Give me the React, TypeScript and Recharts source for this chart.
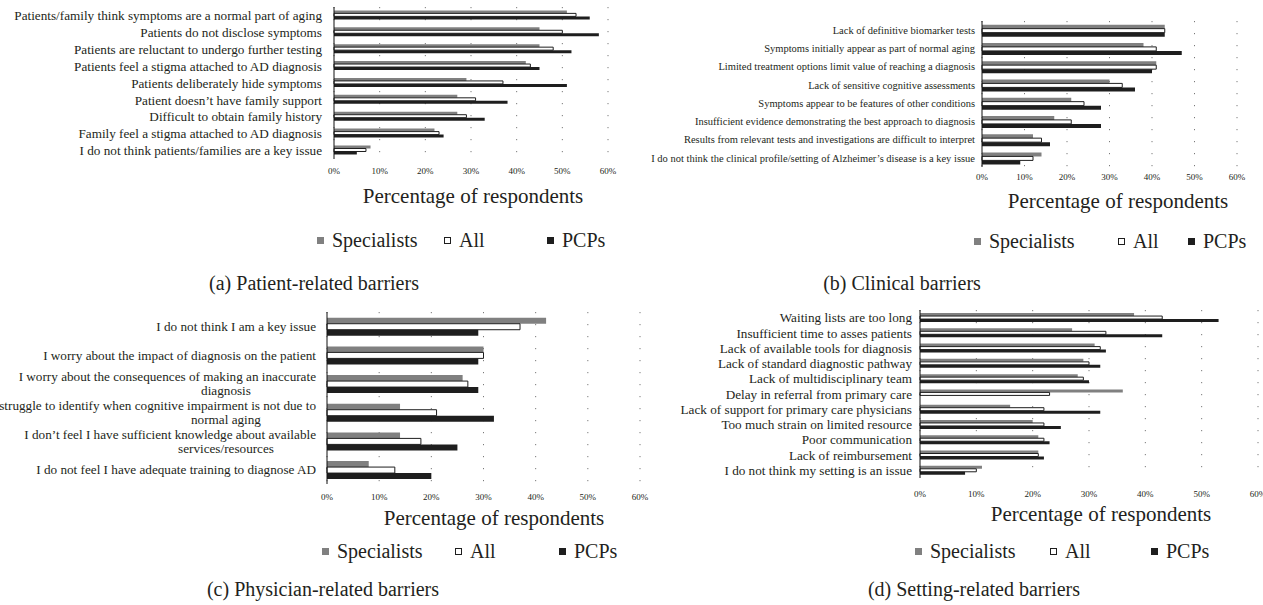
import React from "react";
import { Bar, BarChart, CartesianGrid, XAxis, YAxis } from "recharts";

const patientCategories = [
  "Patients/family think symptoms are a normal part of aging",
  "Patients do not disclose symptoms",
  "Patients are reluctant to undergo further testing",
  "Patients feel a stigma attached to AD diagnosis",
  "Patients deliberately hide symptoms",
  "Patient doesn\u2019t have family support",
  "Difficult to obtain family history",
  "Family feel a stigma attached to AD diagnosis",
  "I do not think patients/families are a key issue",
];
const patientSpecialists = [51, 45, 45, 42, 29, 27, 27, 22, 8];
const patientAll = [53, 50, 48, 43, 37, 31, 29, 23, 7];
const patientPCPs = [56, 58, 52, 45, 51, 38, 33, 24, 5];

const clinicalCategories = [
  "Lack of definitive biomarker tests",
  "Symptoms initially appear as part of normal aging",
  "Limited treatment options limit value of reaching a diagnosis",
  "Lack of sensitive cognitive assessments",
  "Symptoms appear to be features of other conditions",
  "Insufficient evidence demonstrating the best approach to diagnosis",
  "Results from relevant tests and investigations are difficult to interpret",
  "I do not think the clinical profile/setting of Alzheimer\u2019s disease is a key issue",
];
const clinicalSpecialists = [43, 38, 41, 30, 21, 17, 12, 14];
const clinicalAll = [43, 41, 41, 33, 24, 21, 14, 12];
const clinicalPCPs = [43, 47, 40, 36, 28, 28, 16, 9];

const physicianCategories = [
  "I do not think I am a key issue",
  "I worry about the impact of diagnosis on the patient",
  "I worry about the consequences of making an inaccurate\ndiagnosis",
  "I struggle to identify when cognitive impairment is not due to\nnormal aging",
  "I don\u2019t feel I have sufficient knowledge about available\nservices/resources",
  "I do not feel I have adequate training to diagnose AD",
];
const physicianSpecialists = [42, 30, 26, 14, 14, 8];
const physicianAll = [37, 30, 27, 21, 18, 13];
const physicianPCPs = [29, 29, 29, 32, 25, 20];

const settingCategories = [
  "Waiting lists are too long",
  "Insufficient time to asses patients",
  "Lack of available tools for diagnosis",
  "Lack of standard diagnostic pathway",
  "Lack of multidisciplinary team",
  "Delay in referral from primary care",
  "Lack of support for primary care physicians",
  "Too much strain on limited resource",
  "Poor communication",
  "Lack of reimbursement",
  "I do not think my setting is an issue",
];
const settingSpecialists = [38, 27, 31, 29, 28, 36, 16, 20, 21, 21, 11];
const settingAll = [43, 33, 32, 30, 29, 23, 22, 22, 22, 21, 10];
const settingPCPs = [53, 43, 33, 32, 30, 0, 32, 25, 23, 22, 8];

const xTicks = [0, 10, 20, 30, 40, 50, 60];
const seriesNames = ["Specialists", "All", "PCPs"];

const FONT = "'Liberation Serif', 'DejaVu Serif', serif";
const INK = "#231f20";
const GREY = "#808080";
const DARK = "#1e1e1e";

const CategoryTick = (props: any) => {
  const { x, y, payload, fontSize, wrapOffset } = props;
  const lines = String(payload.value).split("\n");
  const lh = fontSize * 1.05;
  const y0 = y - ((lines.length - 1) * lh) / 2;
  return (
    <g>
      {lines.map((line: string, i: number) => (
        <text
          key={i}
          x={i === 0 ? x : x - wrapOffset}
          y={y0 + i * lh}
          dy="0.35em"
          textAnchor={i === 0 ? "end" : "middle"}
          fontSize={fontSize}
          fontFamily={FONT}
          fill={INK}
        >
          {line}
        </text>
      ))}
    </g>
  );
};

const Centered = ({ x, y, size, children }: any) => (
  <div
    style={{
      position: "absolute",
      left: x,
      top: y,
      transform: "translate(-50%, -50%)",
      whiteSpace: "nowrap",
      fontSize: size,
      lineHeight: 1,
      fontFamily: FONT,
      color: INK,
    }}
  >
    {children}
  </div>
);

const markerStyle = [
  { background: GREY, border: "none" },
  { background: "#fff", border: `1px solid ${DARK}` },
  { background: DARK, border: "none" },
];

const PanelLegend = ({ y, markers }: { y: number; markers: number[] }) => (
  <>
    {seriesNames.map((name, i) => (
      <div
        key={name}
        style={{
          position: "absolute",
          left: markers[i] - 4,
          top: y,
          transform: "translateY(-50%)",
          display: "flex",
          alignItems: "center",
          whiteSpace: "nowrap",
          fontFamily: FONT,
          fontSize: 20,
          lineHeight: 1,
          color: INK,
        }}
      >
        <span
          style={{
            flex: "0 0 7px",
            width: 7,
            height: 7,
            boxSizing: "border-box",
            marginRight: 8,
            ...markerStyle[i],
          }}
        />
        <span>{name}</span>
      </div>
    ))}
  </>
);

interface PanelProps {
  categories: string[];
  specialists: number[];
  all: number[];
  pcps: number[];
  left: number;
  top: number;
  width: number;
  height: number;
  margin: { top: number; right: number; bottom: number; left: number };
  axisWidth: number;
  xAxisHeight: number;
  labelGap: number;
  labelSize: number;
  tickGap: number;
  titleAt: [number, number];
  legendY: number;
  legendMarkers: number[];
  caption: string;
  captionAt: [number, number];
}

const Panel = (p: PanelProps) => {
  const data = p.categories.map((name, i) => ({
    name,
    specialists: p.specialists[i],
    all: p.all[i],
    pcps: p.pcps[i],
  }));
  return (
    <>
      <div style={{ position: "absolute", left: p.left, top: p.top }}>
        <BarChart
          width={p.width}
          height={p.height}
          layout="vertical"
          data={data}
          margin={p.margin}
          barCategoryGap="20%"
          barGap={0}
        >
          <CartesianGrid
            horizontal={false}
            stroke="#7a7a7a"
            strokeDasharray="1.2 10.8"
          />
          <XAxis
            type="number"
            domain={[0, 60]}
            ticks={xTicks}
            tickFormatter={(v) => `${v}%`}
            axisLine={false}
            tickLine={false}
            tickSize={0}
            tickMargin={p.tickGap}
            height={p.xAxisHeight}
            interval={0}
            tick={{ fontSize: 9, fill: INK, fontFamily: FONT }}
          />
          <YAxis
            type="category"
            dataKey="name"
            width={p.axisWidth}
            axisLine={{ stroke: "#111", strokeWidth: 1 }}
            tickLine={false}
            tickSize={0}
            tickMargin={p.labelGap}
            interval={0}
            tick={(t: any) => (
              <CategoryTick {...t} fontSize={p.labelSize} wrapOffset={90} />
            )}
          />
          <Bar dataKey="specialists" fill={GREY} isAnimationActive={false} />
          <Bar
            dataKey="all"
            fill="#ffffff"
            stroke={DARK}
            strokeWidth={1}
            isAnimationActive={false}
          />
          <Bar dataKey="pcps" fill={DARK} isAnimationActive={false} />
        </BarChart>
      </div>
      <Centered x={p.titleAt[0]} y={p.titleAt[1]} size={21}>
        Percentage of respondents
      </Centered>
      <PanelLegend y={p.legendY} markers={p.legendMarkers} />
      <Centered x={p.captionAt[0]} y={p.captionAt[1]} size={20}>
        {p.caption}
      </Centered>
    </>
  );
};

export default function App() {
  return (
    <div
      style={{
        position: "absolute",
        left: 0,
        top: 0,
        width: 1263,
        height: 605,
        background: "#fff",
        overflow: "hidden",
      }}
    >
      <Panel
        categories={patientCategories}
        specialists={patientSpecialists}
        all={patientAll}
        pcps={patientPCPs}
        left={0}
        top={0}
        width={640}
        height={185}
        margin={{ top: 7, right: 32, bottom: 0, left: 0 }}
        axisWidth={334}
        xAxisHeight={26}
        labelGap={12}
        labelSize={13.2}
        tickGap={9}
        titleAt={[473, 196]}
        legendY={240}
        legendMarkers={[321, 448, 551]}
        caption="(a)  Patient-related barriers"
        captionAt={[314, 283]}
      />
      <Panel
        categories={clinicalCategories}
        specialists={clinicalSpecialists}
        all={clinicalAll}
        pcps={clinicalPCPs}
        left={640}
        top={0}
        width={623}
        height={190}
        margin={{ top: 21, right: 26, bottom: 0, left: 0 }}
        axisWidth={342}
        xAxisHeight={23}
        labelGap={7}
        labelSize={10.5}
        tickGap={7}
        titleAt={[1118, 201]}
        legendY={241}
        legendMarkers={[978, 1122, 1192]}
        caption="(b)  Clinical barriers"
        captionAt={[902, 283]}
      />
      <Panel
        categories={physicianCategories}
        specialists={physicianSpecialists}
        all={physicianAll}
        pcps={physicianPCPs}
        left={0}
        top={300}
        width={655}
        height={206}
        margin={{ top: 12, right: 15, bottom: 0, left: 0 }}
        axisWidth={327}
        xAxisHeight={22}
        labelGap={11}
        labelSize={13.2}
        tickGap={10}
        titleAt={[494, 518]}
        legendY={551}
        legendMarkers={[326, 459, 563]}
        caption="(c)  Physician-related barriers"
        captionAt={[323, 589]}
      />
      <Panel
        categories={settingCategories}
        specialists={settingSpecialists}
        all={settingAll}
        pcps={settingPCPs}
        left={640}
        top={300}
        width={623}
        height={200}
        margin={{ top: 10, right: 5, bottom: 0, left: 0 }}
        axisWidth={280}
        xAxisHeight={22}
        labelGap={8}
        labelSize={13.2}
        tickGap={13}
        titleAt={[1101, 514]}
        legendY={551}
        legendMarkers={[919, 1054, 1155]}
        caption="(d)  Setting-related barriers"
        captionAt={[974, 589]}
      />
    </div>
  );
}
